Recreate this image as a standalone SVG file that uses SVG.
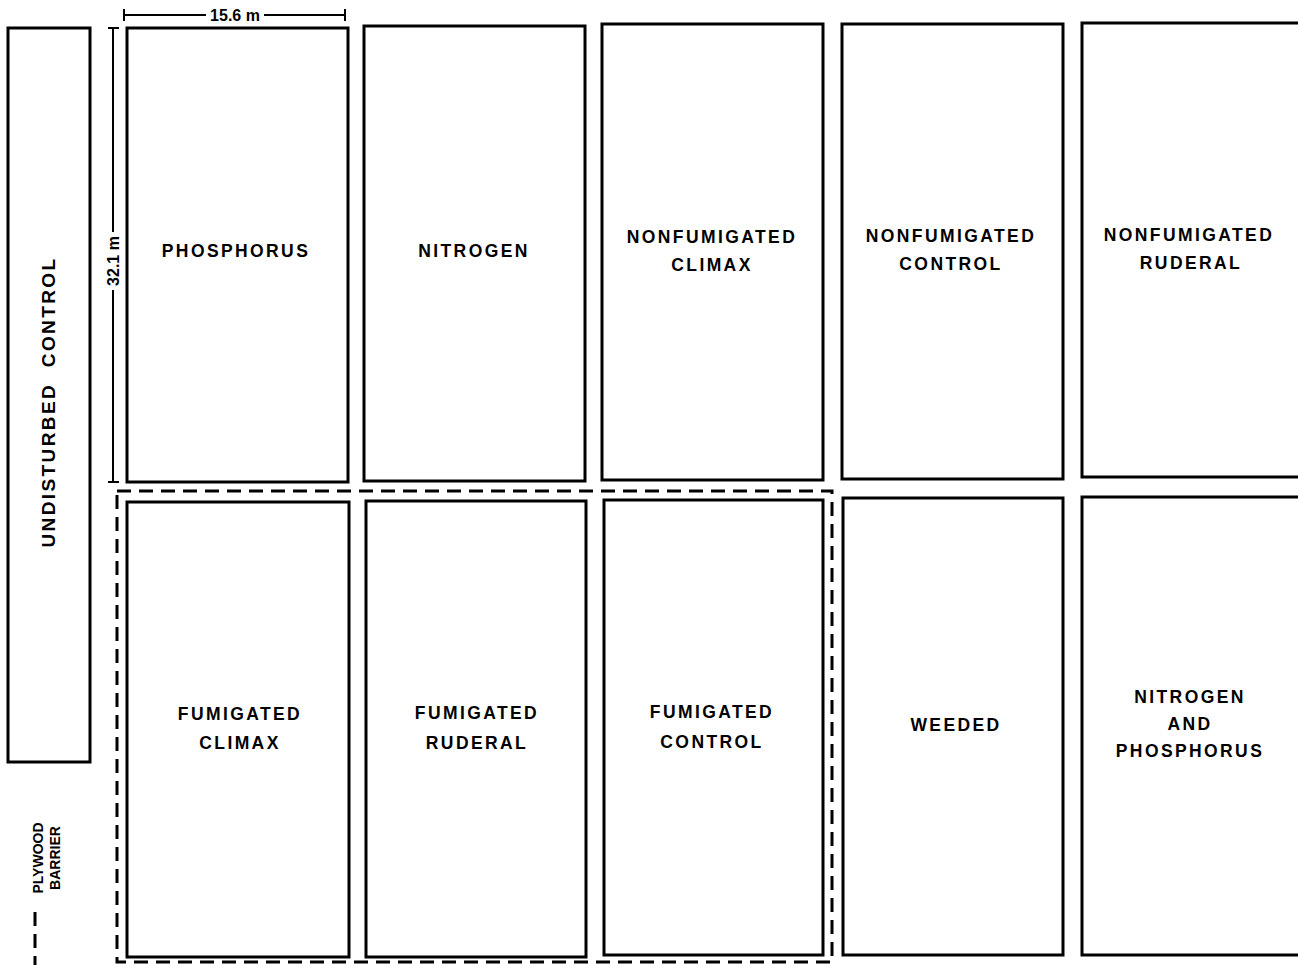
<svg xmlns="http://www.w3.org/2000/svg" width="1298" height="965" viewBox="0 0 1298 965">
<style>
.plot{fill:#fff;stroke:#000;stroke-width:3}
.lbl{font-family:"Liberation Sans",Arial,sans-serif;font-weight:bold;font-size:17.5px;letter-spacing:2.4px;text-anchor:middle;fill:#000}
.dim{font-family:"Liberation Sans",Arial,sans-serif;font-weight:bold;font-size:16px;text-anchor:middle;fill:#000}
.dl{stroke:#000;stroke-width:2;fill:none}
.dash{stroke:#000;stroke-width:3;fill:none;stroke-dasharray:14 8}
</style>
<rect width="1298" height="965" fill="#fff"/>
<g id="undisturbed">
<rect class="plot" x="8" y="28" width="82" height="734"/>
<text class="lbl" style="font-size:19px;letter-spacing:2.4px;word-spacing:8px" transform="translate(55,402) rotate(-90)">UNDISTURBED CONTROL</text>
</g>
<g id="dimensions">
<path class="dl" d="M124,15 H206 M264,15 H345 M124,9 V21 M345,9 V21"/>
<text class="dim" x="235" y="21">15.6 m</text>
<path class="dl" d="M113,28 V232 M113,290 V482 M108,28 H119 M108,482 H119"/>
<text class="dim" transform="translate(119,261) rotate(-90)">32.1 m</text>
</g>
<g id="phosphorus"><rect class="plot" x="127" y="28" width="221" height="454"/><text class="lbl" x="236" y="257">PHOSPHORUS</text></g>
<g id="nitrogen"><rect class="plot" x="364" y="26" width="221" height="455"/><text class="lbl" x="474" y="257">NITROGEN</text></g>
<g id="nonfum-climax"><rect class="plot" x="602" y="24" width="221" height="456"/><text class="lbl" x="712" y="243">NONFUMIGATED</text><text class="lbl" x="712" y="271">CLIMAX</text></g>
<g id="nonfum-control"><rect class="plot" x="842" y="24" width="221" height="455"/><text class="lbl" x="951" y="242">NONFUMIGATED</text><text class="lbl" x="951" y="270">CONTROL</text></g>
<g id="nonfum-ruderal"><rect class="plot" x="1082" y="23" width="230" height="454"/><text class="lbl" x="1189" y="241">NONFUMIGATED</text><text class="lbl" x="1191" y="269">RUDERAL</text></g>
<g id="fum-climax"><rect class="plot" x="127" y="502" width="222" height="455"/><text class="lbl" x="240" y="720">FUMIGATED</text><text class="lbl" x="240" y="749">CLIMAX</text></g>
<g id="fum-ruderal"><rect class="plot" x="366" y="501" width="220" height="456"/><text class="lbl" x="477" y="719">FUMIGATED</text><text class="lbl" x="477" y="749">RUDERAL</text></g>
<g id="fum-control"><rect class="plot" x="604" y="500" width="219" height="455"/><text class="lbl" x="712" y="718">FUMIGATED</text><text class="lbl" x="712" y="748">CONTROL</text></g>
<g id="weeded"><rect class="plot" x="843" y="498" width="220" height="457"/><text class="lbl" x="956" y="731">WEEDED</text></g>
<g id="n-and-p"><rect class="plot" x="1082" y="497" width="230" height="458"/><text class="lbl" x="1190" y="703">NITROGEN</text><text class="lbl" x="1190" y="730">AND</text><text class="lbl" x="1190" y="757">PHOSPHORUS</text></g>
<g id="connectors">
<rect class="dash" x="117" y="491" width="715" height="471"/>
</g>
<g id="legend">
<path class="dash" d="M35,912 V965"/>
<text class="dim" style="font-size:14px" transform="translate(43,858) rotate(-90)">PLYWOOD</text>
<text class="dim" style="font-size:14px" transform="translate(60,858) rotate(-90)">BARRIER</text>
</g>
</svg>
